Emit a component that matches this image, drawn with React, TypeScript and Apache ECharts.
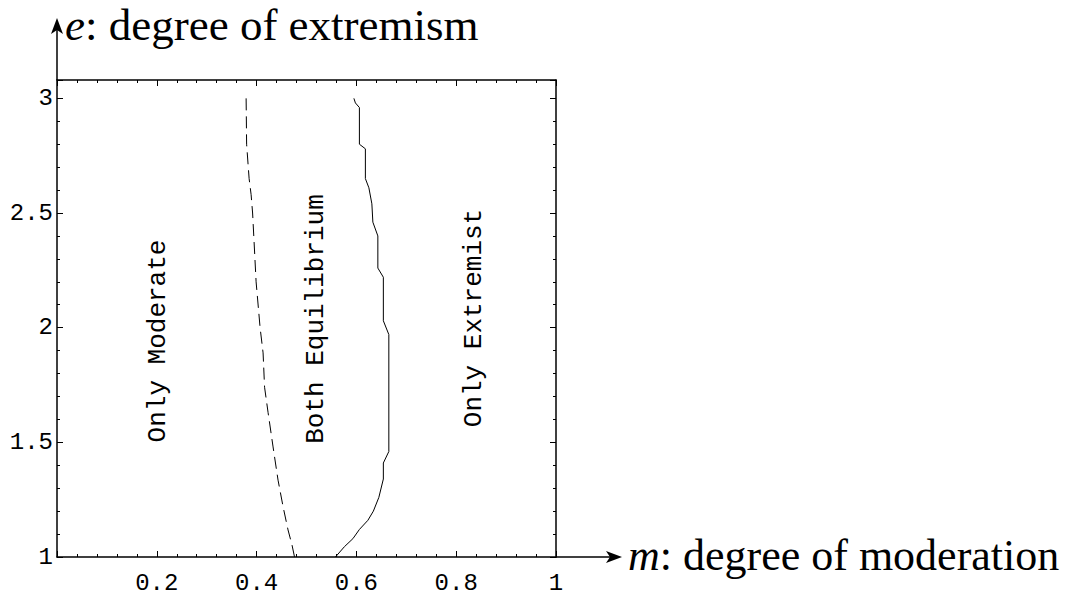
import React, { useEffect, useRef } from "react";
import * as echarts from "echarts";

// Tick values and labels
const xTickValues = [0.2, 0.4, 0.6, 0.8, 1];
const xTickLabels = ["0.2", "0.4", "0.6", "0.8", "1"];
const yTickValues = [1, 1.5, 2, 2.5, 3];
const yTickLabels = ["1", "1.5", "2", "2.5", "3"];

// Dashed boundary (m, e)
const dashedM = [0.379, 0.380, 0.385, 0.389, 0.392, 0.399, 0.407, 0.413, 0.416, 0.423, 0.433, 0.443, 0.453, 0.463, 0.471, 0.476];
const dashedE = [3.0, 2.8, 2.65, 2.58, 2.5, 2.2, 2.0, 1.89, 1.74, 1.63, 1.48, 1.335, 1.22, 1.118, 1.052, 1.0];

// Solid boundary (m, e)
const solidM = [0.595, 0.598, 0.606, 0.606, 0.618, 0.618, 0.625, 0.631, 0.633, 0.643, 0.643, 0.654, 0.654, 0.665, 0.665, 0.654, 0.654, 0.645, 0.634, 0.623, 0.606, 0.593, 0.576, 0.558];
const solidE = [3.0, 2.98, 2.96, 2.80, 2.78, 2.65, 2.61, 2.54, 2.46, 2.40, 2.26, 2.22, 2.03, 1.97, 1.46, 1.41, 1.34, 1.26, 1.20, 1.16, 1.12, 1.08, 1.045, 1.0];

const regionLabels = ["Only Moderate", "Both Equilibrium", "Only Extremist"];
const yTitle = ["e", ": degree of extremism"];
const xTitle = ["m", ": degree of moderation"];

const MONO = "'Liberation Mono', 'DejaVu Sans Mono', monospace";
const SERIF = "'Liberation Serif', 'DejaVu Serif', serif";

const fmt = (vals: number[], labels: string[]) => (v: number) => {
  const i = vals.findIndex((t) => Math.abs(t - v) < 1e-6);
  return i >= 0 ? labels[i] : "";
};

export default function App() {
  const ref = useRef<HTMLDivElement>(null);
  useEffect(() => {
    if (!ref.current) return;
    const chart = echarts.init(ref.current, undefined, { renderer: "svg" });
    const L = 57, T = 80, W = 499, H = 477;
    const axisCommon = {
      type: "value" as const,
      axisLine: { show: true, onZero: false, lineStyle: { color: "#000", width: 1.5 } },
      axisTick: { show: true, inside: true, length: 6, lineStyle: { color: "#000", width: 1 } },
      minorTick: { show: true, splitNumber: 5, length: 3, lineStyle: { color: "#000", width: 1 } },
      splitLine: { show: false },
      minorSplitLine: { show: false },
    };
    chart.setOption({
      animation: false,
      backgroundColor: "#fff",
      grid: { left: L, top: T, width: W, height: H, containLabel: false },
      xAxis: [
        {
          ...axisCommon,
          position: "bottom",
          min: 0,
          max: 1,
          interval: 0.2,
          axisLabel: {
            show: true,
            formatter: fmt(xTickValues, xTickLabels),
            fontFamily: MONO,
            fontSize: 24,
            color: "#000",
            margin: 14,
          },
        },
        {
          ...axisCommon,
          position: "top",
          min: 0,
          max: 1,
          interval: 0.2,
          axisLabel: { show: false },
        },
      ],
      yAxis: [
        {
          ...axisCommon,
          position: "left",
          min: 1,
          max: 3.08,
          interval: 0.5,
          axisLabel: {
            show: true,
            formatter: fmt(yTickValues, yTickLabels),
            fontFamily: MONO,
            fontSize: 24,
            color: "#000",
            margin: 4,
          },
        },
        {
          ...axisCommon,
          position: "right",
          min: 1,
          max: 3.08,
          interval: 0.5,
          axisLabel: { show: false },
        },
      ],
      series: [
        {
          type: "line",
          xAxisIndex: 0,
          yAxisIndex: 0,
          showSymbol: false,
          symbol: "none",
          data: dashedM.map((m, i) => [m, dashedE[i]]),
          lineStyle: { color: "#000", width: 1, type: [12, 6] },
        },
        {
          type: "line",
          xAxisIndex: 0,
          yAxisIndex: 0,
          showSymbol: false,
          symbol: "none",
          data: solidM.map((m, i) => [m, solidE[i]]),
          lineStyle: { color: "#000", width: 1 },
        },
      ],
      graphic: [
        { type: "line", shape: { x1: 57, y1: 80, x2: 57, y2: 28 }, style: { stroke: "#000", lineWidth: 1.5 } },
        { type: "polygon", shape: { points: [[57, 18], [51, 34], [57, 30], [63, 34]] }, style: { fill: "#000" } },
        { type: "line", shape: { x1: 556, y1: 557, x2: 612, y2: 557 }, style: { stroke: "#000", lineWidth: 1.5 } },
        { type: "polygon", shape: { points: [[622, 557], [606, 551], [610, 557], [606, 563]] }, style: { fill: "#000" } },
        {
          type: "text",
          x: 65,
          y: 2,
          style: {
            text: `{i|${yTitle[0]}}{n|${yTitle[1]}}`,
            textVerticalAlign: "top",
            rich: {
              i: { fontFamily: SERIF, fontSize: 45, lineHeight: 45, fontStyle: "italic", fill: "#000" },
              n: { fontFamily: SERIF, fontSize: 45, lineHeight: 45, fill: "#000" },
            },
          },
        },
        {
          type: "text",
          x: 628,
          y: 555,
          style: {
            text: `{i|${xTitle[0]}}{n|${xTitle[1]}}`,
            textVerticalAlign: "middle",
            rich: {
              i: { fontFamily: SERIF, fontSize: 44, fontStyle: "italic", fill: "#000" },
              n: { fontFamily: SERIF, fontSize: 44, fill: "#000" },
            },
          },
        },
        {
          type: "text",
          x: 158,
          y: 341,
          rotation: Math.PI / 2,
          style: { text: regionLabels[0], fontFamily: MONO, fontSize: 26, fill: "#000", textAlign: "center", textVerticalAlign: "middle" },
        },
        {
          type: "text",
          x: 316,
          y: 319,
          rotation: Math.PI / 2,
          style: { text: regionLabels[1], fontFamily: MONO, fontSize: 26, fill: "#000", textAlign: "center", textVerticalAlign: "middle" },
        },
        {
          type: "text",
          x: 474,
          y: 318,
          rotation: Math.PI / 2,
          style: { text: regionLabels[2], fontFamily: MONO, fontSize: 26, fill: "#000", textAlign: "center", textVerticalAlign: "middle" },
        },
      ],
    });
    return () => chart.dispose();
  }, []);
  return (
    <div
      ref={ref}
      style={{ position: "absolute", left: 0, top: 0, width: 1071, height: 599, background: "#fff" }}
    />
  );
}
